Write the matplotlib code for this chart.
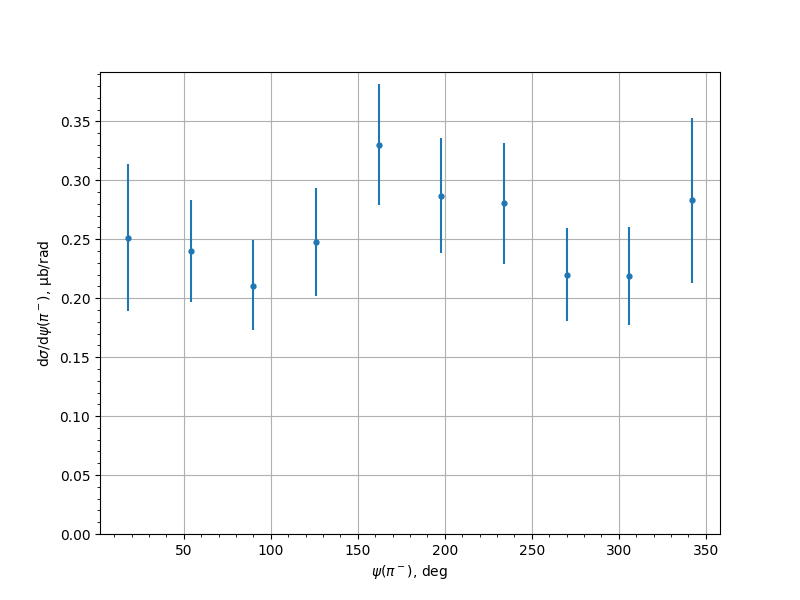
import matplotlib
matplotlib.use('Agg')
import matplotlib.pyplot as plt
import numpy as np

# psi bins (deg) and measured cross-section with errors
psi = [18, 54, 90, 126, 162, 198, 234, 270, 306, 342]
xsec = [0.2512, 0.2402, 0.2105, 0.2478, 0.3300, 0.2870, 0.2808, 0.2198, 0.2190, 0.2834]
err_lo = [0.0620, 0.0433, 0.0375, 0.0458, 0.0509, 0.0486, 0.0518, 0.0390, 0.0416, 0.0704]
err_hi = [0.0624, 0.0429, 0.0387, 0.0454, 0.0514, 0.0486, 0.0506, 0.0395, 0.0412, 0.0691]

fig, ax = plt.subplots(figsize=(8, 6), dpi=100)
ax.errorbar(psi, xsec, yerr=[err_lo, err_hi], fmt='o', ms=3.5)
ax.set_ylim(bottom=0)
ax.minorticks_on()
ax.grid(True)
ax.set_xlabel(r'$\psi(\pi^-)$, deg')
ax.set_ylabel(r'd$\sigma$/d$\psi(\pi^-)$, μb/rad')
fig.savefig('out.png')
